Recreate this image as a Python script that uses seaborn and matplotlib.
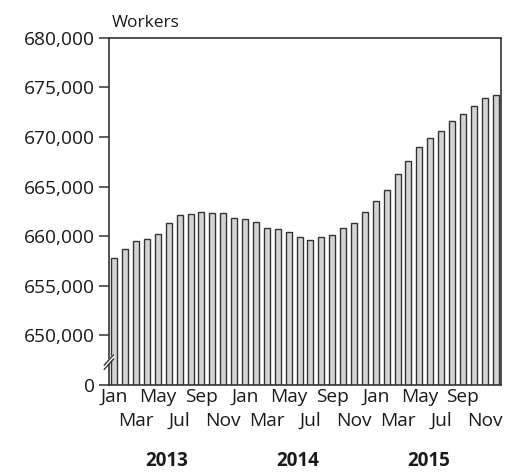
import numpy as np
import pandas as pd
import matplotlib
matplotlib.use("Agg")
import matplotlib.pyplot as plt
import matplotlib.transforms as mtransforms
import seaborn as sns

# --- Data (monthly workers, Jan 2013 - Dec 2015) ---
months = ["Jan", "Feb", "Mar", "Apr", "May", "Jun",
          "Jul", "Aug", "Sep", "Oct", "Nov", "Dec"]
years = ["2013", "2014", "2015"]
workers = [657800, 658750, 659550, 659750, 660250, 661350,
           662150, 662250, 662400, 662350, 662350, 661800,
           661750, 661450, 660850, 660750, 660450, 659950,
           659650, 659900, 660150, 660800, 661300, 662400,
           663550, 664650, 666250, 667600, 668950, 669900,
           670650, 671600, 672350, 673150, 673950, 674200]
ytick_values = [645000, 650000, 655000, 660000, 665000, 670000, 675000, 680000]
ytick_labels = ["0", "650,000", "655,000", "660,000", "665,000",
                "670,000", "675,000", "680,000"]

df = pd.DataFrame({
    "period": [f"{m} {y}" for y in years for m in months],
    "workers": workers,
})

sns.set_style("white")
plt.rcParams["font.family"] = ["Open Sans", "DejaVu Sans"]

fig = plt.figure(figsize=(5.16, 4.73), dpi=100)
ax = fig.add_axes([0.211, 0.186, 0.760, 0.734])

sns.barplot(data=df, x="period", y="workers", color="#d4d4d4",
            edgecolor="#333333", linewidth=1.0, width=0.55,
            saturation=1, ax=ax)

ax.set_xlim(-0.5, len(df) - 0.5)
ax.set_ylim(645000, 680000)
ax.set_yticks(ytick_values)
ax.set_yticklabels(ytick_labels, fontsize=13.8, color="#1a1a1a")
ax.set_xlabel("")
ax.set_ylabel("")

# two-row month labels: Jan/May/Sep on top row, Mar/Jul/Nov below
top_pos = [p for p in range(0, len(df), 4)]
low_pos = [p for p in range(2, len(df), 4)]
ax.set_xticks(top_pos)
ax.set_xticklabels([months[p % 12] for p in top_pos], fontsize=13.8, color="#1a1a1a")
ax.set_xticks(low_pos, minor=True)
ax.set_xticklabels([months[p % 12] for p in low_pos], minor=True,
                   fontsize=13.8, color="#1a1a1a")
ax.tick_params(axis="x", which="major", length=0, pad=2)
ax.tick_params(axis="x", which="minor", length=0, pad=19.5)
ax.tick_params(axis="y", length=7, width=1.1, color="#333333", pad=3, left=True)

for s in ax.spines.values():
    s.set_color("#333333")
    s.set_linewidth(1.2)

# year labels
trans = mtransforms.blended_transform_factory(ax.transData, fig.transFigure)
for k, y in enumerate(years):
    ax.text(4.85 + 12 * k, 0.025, y, transform=trans, ha="center",
            va="center", fontsize=13.5, fontweight="bold", color="#1a1a1a")

# axis break marks on left spine
bx = [-0.012, 0.012]
for dy in (0.0, 0.012):
    ax.plot(bx, [0.045 + dy, 0.075 + dy], transform=ax.transAxes,
            color="#333333", lw=1.0, clip_on=False, zorder=5)
ax.fill([-0.012, 0.012, 0.012, -0.012],
        [0.049, 0.080, 0.088, 0.057], transform=ax.transAxes,
        color="white", clip_on=False, zorder=4)

fig.text(0.217, 0.935, "Workers", fontsize=12.5, color="#1a1a1a",
         ha="left", va="bottom")

fig.savefig("out.png", dpi=100)
